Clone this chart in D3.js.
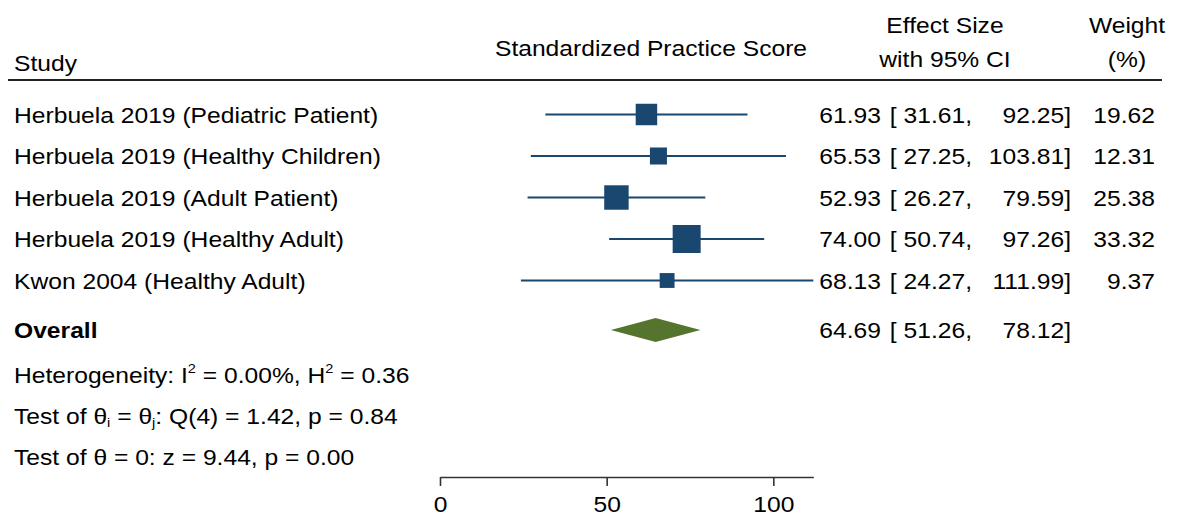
<!doctype html>
<html lang="en">
<head>
  <title>Forest plot</title>
  <script src="https://d3js.org/d3.v7.min.js"></script>
  <style>
    body { margin: 0px; background: #fff; }
    svg text { font-family: "Liberation Sans", Arial, sans-serif; fill: #000; }
  </style>
</head>
<body>
    <div id="container"></div>

    <script>
        // study rows
        var studies = ["Herbuela 2019 (Pediatric Patient)", "Herbuela 2019 (Healthy Children)",
                       "Herbuela 2019 (Adult Patient)", "Herbuela 2019 (Healthy Adult)", "Kwon 2004 (Healthy Adult)"];
        var effect = [61.93, 65.53, 52.93, 74.00, 68.13];
        var lower = [31.61, 27.25, 26.27, 50.74, 24.27];
        var upper = [92.25, 103.81, 79.59, 97.26, 111.99];
        var weight = [19.62, 12.31, 25.38, 33.32, 9.37];

        // overall estimate
        var overall = {label: "Overall", es: 64.69, lo: 51.26, hi: 78.12};
        var xTicks = [0, 50, 100];

        var width = 1186, height = 517;
        var fs = 22;     // font size
        var sx = 1.12;   // the text in the original is a bit wide

        var svg = d3.select('div#container').append('svg')
            .attr('width', width)
            .attr('height', height);

        var x = d3.scaleLinear().domain([0, 111.99]).range([440, 813.3]);
        var rowY = function(i) { return 114.5 + i * 41.5; };
        var overallY = 330;
        var side = d3.scaleSqrt().domain([0, 100]).range([0, 48.5]);

        // text helper, stretched horizontally around its anchor
        function label(g, tx, ty, s, anchor) {
            return g.append("text")
                .attr("transform", "translate(" + tx + "," + ty + ") scale(" + sx + ",1)")
                .attr("text-anchor", anchor || "start")
                .style("font-size", fs + "px")
                .text(s);
        }

        // header
        label(svg, 14, 71, "Study");
        label(svg, 651, 56, "Standardized Practice Score", "middle");
        label(svg, 945, 33, "Effect Size", "middle");
        label(svg, 945, 67, "with 95% CI", "middle");
        label(svg, 1127, 33, "Weight", "middle");
        label(svg, 1127, 67, "(%)", "middle");
        svg.append("line").attr("x1", 8).attr("x2", 1162).attr("y1", 80).attr("y2", 80)
            .attr("stroke", "#222").attr("stroke-width", 2.2);

        var rows = svg.append("g").selectAll("g")
            .data(studies)
            .enter()
            .append("g");

        rows.each(function(d, i) { label(d3.select(this), 14, rowY(i) + 8, d); });

        rows.append("line")
            .attr("x1", function(d, i) { return x(lower[i]); })
            .attr("x2", function(d, i) { return x(upper[i]); })
            .attr("y1", function(d, i) { return rowY(i); })
            .attr("y2", function(d, i) { return rowY(i); })
            .attr("stroke", "#1a476f").attr("stroke-width", 2);

        rows.append("rect")
            .attr("x", function(d, i) { return x(effect[i]) - side(weight[i]) / 2; })
            .attr("y", function(d, i) { return rowY(i) - side(weight[i]) / 2; })
            .attr("width", function(d, i) { return side(weight[i]); })
            .attr("height", function(d, i) { return side(weight[i]); })
            .attr("fill", "#1a476f");

        function ciText(g, yy, es, lo, hi, w) {
            label(g, 881, yy, es.toFixed(2), "end");
            label(g, 972, yy, "[ " + lo.toFixed(2) + ",", "end");
            label(g, 1071, yy, hi.toFixed(2) + "]", "end");
            if (w != null) label(g, 1155, yy, w.toFixed(2), "end");
        }
        rows.each(function(d, i) { ciText(d3.select(this), rowY(i) + 8, effect[i], lower[i], upper[i], weight[i]); });

        // overall
        label(svg, 14, overallY + 8, overall.label).style("font-weight", "bold");
        svg.append("path")
            .attr("d", "M" + x(overall.lo) + "," + overallY + "L" + x(overall.es) + "," + (overallY - 12) +
                       "L" + x(overall.hi) + "," + overallY + "L" + x(overall.es) + "," + (overallY + 12) + "Z")
            .attr("fill", "#55752f");
        ciText(svg.append("g"), overallY + 8, overall.es, overall.lo, overall.hi, null);

        // heterogeneity & tests
        var sm = 13;
        var t1 = label(svg, 14, 383, "");
        t1.append("tspan").text("Heterogeneity: I");
        t1.append("tspan").attr("dy", -10).style("font-size", sm + "px").text("2");
        t1.append("tspan").attr("dy", 10).text(" = 0.00%, H");
        t1.append("tspan").attr("dy", -10).style("font-size", sm + "px").text("2");
        t1.append("tspan").attr("dy", 10).text(" = 0.36");

        var t2 = label(svg, 14, 424, "");
        t2.append("tspan").text("Test of θ");
        t2.append("tspan").attr("dy", 3).style("font-size", sm + "px").text("i");
        t2.append("tspan").attr("dy", -3).text(" = θ");
        t2.append("tspan").attr("dy", 3).style("font-size", sm + "px").text("j");
        t2.append("tspan").attr("dy", -3).text(": Q(4) = 1.42, p = 0.84");

        label(svg, 14, 465, "Test of θ = 0: z = 9.44, p = 0.00");

        // axis
        var axis = svg.append("g")
            .attr("transform", "translate(0,477)")
            .call(d3.axisBottom(x).tickValues(xTicks).tickSize(9).tickSizeOuter(0).tickPadding(10));
        axis.select(".domain").attr("stroke", "#333").attr("stroke-width", 1.6);
        axis.selectAll(".tick line").attr("stroke", "#333").attr("stroke-width", 1.6);
        axis.selectAll(".tick text").style("font-size", fs + "px").attr("fill", "#000")
            .attr("transform", "scale(" + sx + ",1)")
            .style("font-family", "'Liberation Sans', Arial, sans-serif");
    </script>
</body>
</html>
